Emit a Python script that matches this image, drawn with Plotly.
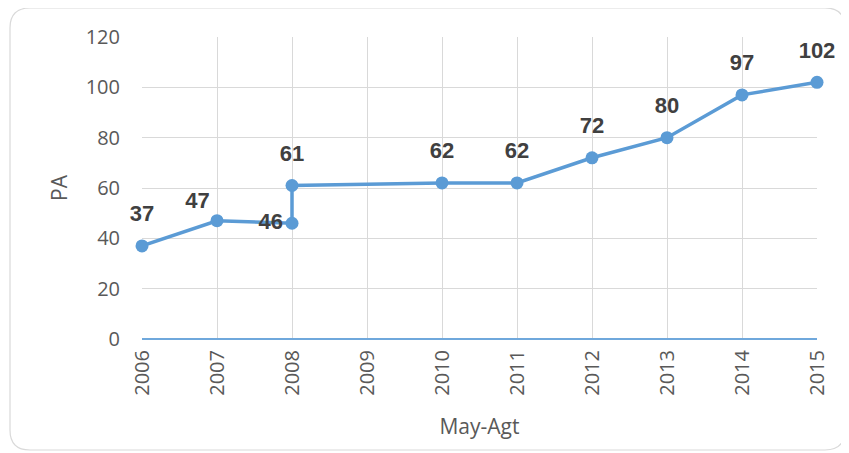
import plotly.graph_objects as go

years = [2006, 2007, 2008, 2008, 2010, 2011, 2012, 2013, 2014, 2015]
pa_values = [37, 47, 46, 61, 62, 62, 72, 80, 97, 102]
label_positions = ["top center", "top left", "middle left", "top center", "top center",
                   "top center", "top center", "top center", "top center", "top center"]
# invisible marker sizes used only to set the label gap from each point
label_gap_sizes = [29, 10, 13, 29, 29, 29, 29, 29, 29, 29]
x_ticks = list(range(2006, 2016))
y_ticks = [0, 20, 40, 60, 80, 100, 120]

# page is rendered with an 8px body margin
OFF = 8
W, H = 849 - OFF, 453 - OFF
L, R, T, B = 142, 817, 37, 339  # plot area in page pixels


def px(x):
    return (x - L) / (R - L)


def py(y):
    return (B - y) / (B - T)


# rounded border path (page pixel coordinates converted to paper)
x0, x1, y0, y1, r = 10, 845, 8, 450, 20
pts = [
    ("M", [(x0 + r, y0)]),
    ("L", [(x1 - r, y0)]),
    ("Q", [(x1, y0), (x1, y0 + r)]),
    ("L", [(x1, y1 - r)]),
    ("Q", [(x1, y1), (x1 - r, y1)]),
    ("L", [(x0 + r, y1)]),
    ("Q", [(x0, y1), (x0, y1 - r)]),
    ("L", [(x0, y0 + r)]),
    ("Q", [(x0, y0), (x0 + r, y0)]),
]
path = ""
for cmd, cs in pts:
    path += cmd + " " + " ".join(f"{px(a):.5f},{py(b):.5f}" for a, b in cs) + " "
path += "Z"

fig = go.Figure()
fig.add_trace(go.Scatter(
    x=years, y=pa_values,
    mode="lines+markers",
    line=dict(color="#5B9BD5", width=3.5),
    marker=dict(color="#5B9BD5", size=13, line=dict(width=0)),
    cliponaxis=False,
    showlegend=False,
    hoverinfo="x+y",
))
fig.add_trace(go.Scatter(
    x=years, y=pa_values,
    mode="markers+text",
    marker=dict(color="rgba(0,0,0,0)", size=label_gap_sizes, line=dict(width=0, color="rgba(0,0,0,0)")),
    text=[str(v) for v in pa_values],
    textposition=label_positions,
    textfont=dict(family="Liberation Sans, Arial", size=22, color="#404040", weight="bold"),
    cliponaxis=False,
    showlegend=False,
    hoverinfo="skip",
))

fig.update_layout(
    width=W, height=H,
    margin=dict(l=L - OFF, r=849 - R, t=T - OFF, b=453 - B),
    paper_bgcolor="white",
    plot_bgcolor="white",
    font=dict(family="Open Sans, Liberation Sans", color="#595959"),
    shapes=[dict(type="path", path=path, xref="paper", yref="paper",
                 line=dict(color="#D9D9D9", width=1.2), fillcolor="rgba(0,0,0,0)", layer="below")],
)
fig.update_xaxes(
    range=[2006, 2015],
    tickmode="array", tickvals=x_ticks, ticktext=[str(v) for v in x_ticks],
    tickangle=-90,
    tickfont=dict(size=20, color="#595959"),
    showgrid=True, gridcolor="#D9D9D9", gridwidth=1,
    zeroline=False,
    showline=False,
    ticks="",
    ticklabelstandoff=6,
    title=dict(text="May-Agt", font=dict(size=21, color="#595959"), standoff=24),
)
fig.update_yaxes(
    range=[0, 120],
    tickmode="array", tickvals=y_ticks,
    tickfont=dict(size=20, color="#595959"),
    showgrid=True, gridcolor="#D9D9D9", gridwidth=1,
    zeroline=True, zerolinecolor="#6FA8DC", zerolinewidth=1.5,
    showline=False,
    ticks="",
    ticklabelstandoff=21,
    title=dict(text="PA", font=dict(size=21, color="#595959"), standoff=12),
)

fig.write_html("out.html")
